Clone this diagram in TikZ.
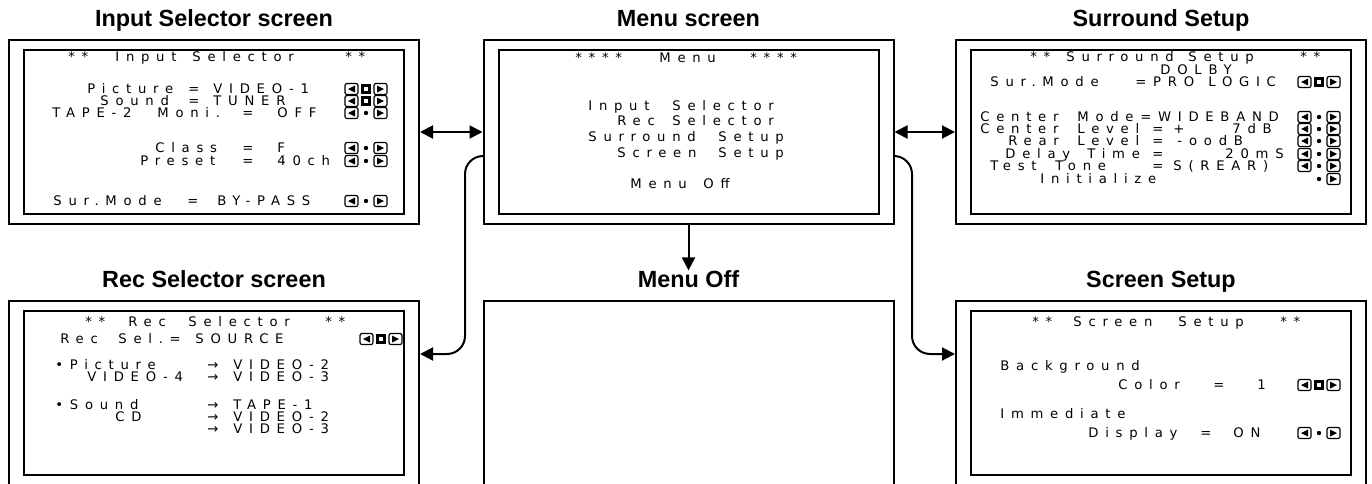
\documentclass[tikz,border=0pt]{standalone}
\usepackage{fontspec}
\usetikzlibrary{positioning, arrows.meta}
\newfontfamily\titlefont{Liberation Sans}
\newfontfamily\scrfont{DejaVu Sans}[LetterSpace=51]

\begin{document}
\begin{tikzpicture}[x=0.5pt, y=-0.5pt,
    % Define styles for the screens and their texts
    outerbox/.style={draw, line width=1pt, minimum width=205pt, minimum height=92pt, inner sep=0pt},
    innerbox/.style={draw, line width=1pt, minimum width=190pt, minimum height=82pt, inner sep=0pt},
    title/.style={font=\titlefont\bfseries\fontsize{11.7}{14}\selectfont, inner sep=0pt, text height=8.4pt, text depth=2.5pt},
    scrtxt/.style={font=\scrfont\fontsize{6.6}{8}\selectfont, anchor=west, inner sep=0pt, text height=4.8pt, text depth=0pt},
    ctlbox/.style={line width=0.6pt, rounded corners=1pt},
    % Define connector styles
    conn/.style={line width=1pt, -{Triangle[length=6.5pt, width=6.5pt]}},
    dblconn/.style={line width=1pt, {Triangle[length=6.5pt, width=6.5pt]}-{Triangle[length=6.5pt, width=6.5pt]}}
]

    % --- Page frame ---
    \useasboundingbox (0,0) rectangle (1372,483);
    \clip (0,0) rectangle (1372,483);

    % --- Helper macros for the arrow keys ---
    % Arguments: (right edge x, row y)
    \newcommand{\ctlL}[2]{
        \draw[ctlbox] ({#1-42},{#2-5.5}) rectangle ({#1-29},{#2+5.5});
        \fill ({#1-39},#2) -- ({#1-32},{#2-3.5}) -- ({#1-32},{#2+3.5}) -- cycle;
    }
    \newcommand{\ctlR}[2]{
        \draw[ctlbox] ({#1-13},{#2-5.5}) rectangle (#1,{#2+5.5});
        \fill ({#1-3},#2) -- ({#1-10},{#2-3.5}) -- ({#1-10},{#2+3.5}) -- cycle;
    }
    \newcommand{\ctlSq}[2]{
        \fill ({#1-26},{#2-5}) rectangle ({#1-16},{#2+5});
        \fill[white] ({#1-23},{#2-2}) rectangle ({#1-19},{#2+2});
    }
    \newcommand{\ctlDot}[2]{
        \fill ({#1-21},#2) circle (1.1pt);
    }

    % ================= SCREENS =================
    \foreach \n/\x/\y in {in/214/132, menu/688.5/132, surr/1161/132, rec/214/393, scr/1161/393} {
        \node[outerbox] (\n) at (\x,\y) {};
        \node[innerbox] (i\n) at (\x,\y) {};
    }
    \node[outerbox] (off) at (688.5,393) {};

    % --- Titles ---
    \node[title, above=3.5pt of in] (inT) {Input Selector screen};
    \node[title, above=3.5pt of menu] (menuT) {Menu screen};
    \node[title, above=3.5pt of surr] (surrT) {Surround Setup};
    \node[title, above=3.5pt of rec] (recT) {Rec Selector screen};
    \node[title, above=3.5pt of off] (offT) {Menu Off};
    \node[title, above=3.5pt of scr] (scrT) {Screen Setup};

    % ================= SCREEN TEXTS =================
    % Input Selector
    \foreach \x/\y/\t [count=\i] in {68/57/**, 115/57/Input, 192/57/Selector, 345/57/**,
        87/89/Picture, 188/89/=, 213/89/VIDEO-1,
        100/101/Sound, 188/101/=, 213/101/TUNER,
        52/113/TAPE-2, 157/113/Moni., 242/113/=, 277/113/OFF,
        155/148/Class, 242/148/=, 277/148/F,
        140/161/Preset, 242/161/=, 277/161/40ch,
        53/201/Sur.Mode, 187/201/=, 217/201/BY-PASS} {
        \node[scrtxt] (inTx\i) at (\x,\y) {\t};
    }
    \foreach \y in {89, 101} {\ctlL{387}{\y}\ctlSq{387}{\y}\ctlR{387}{\y}}
    \foreach \y in {113, 148, 161, 201} {\ctlL{387}{\y}\ctlDot{387}{\y}\ctlR{387}{\y}}

    % Menu
    \foreach \x/\y/\t [count=\i] in {575/58/****, 659/58/Menu, 750/58/****,
        588/106/Input, 672/106/Selector,
        617/121/Rec, 672/121/Selector,
        588/137/Surround, 718/137/Setup,
        617/153/Screen, 718/153/Setup,
        630/184/Menu, 703/184/Off} {
        \node[scrtxt] (menuTx\i) at (\x,\y) {\t};
    }

    % Surround Setup
    \foreach \x/\y/\t [count=\i] in {1030/57/**, 1066/57/Surround, 1188/57/Setup, 1300/57/**,
        1160/70/DOLBY,
        990/82/Sur.Mode, 1135/82/=PRO, 1208/82/LOGIC,
        980/117/Center, 1077/117/Mode=WIDEBAND,
        980/129/Center, 1077/129/Level, 1152/129/=, 1173/129/+, 1232/129/7dB,
        1008/141/Rear, 1077/141/Level, 1152/141/=, 1177/141/-oodB,
        1005/154/Delay, 1087/154/Time, 1152/154/=, 1225/154/20mS,
        990/166/Test, 1055/166/Tone, 1152/166/=, 1173/166/{S(REAR)},
        1040/179/Initialize} {
        \node[scrtxt] (surrTx\i) at (\x,\y) {\t};
    }
    \ctlL{1340}{82}\ctlSq{1340}{82}\ctlR{1340}{82}
    \foreach \y in {117, 129, 141, 154, 166} {\ctlL{1340}{\y}\ctlDot{1340}{\y}\ctlR{1340}{\y}}
    \ctlDot{1340}{179}\ctlR{1340}{179}

    % Rec Selector
    \foreach \x/\y/\t [count=\i] in {85/322/**, 128/322/Rec, 188/322/Selector, 325/322/**,
        60/339/Rec, 118/339/Sel.=, 195/339/SOURCE,
        55/365/•Picture, 207/365/→, 233/365/VIDEO-2,
        87/377/VIDEO-4, 207/377/→, 233/377/VIDEO-3,
        55/405/•Sound, 207/405/→, 233/405/TAPE-1,
        115/417/CD, 207/417/→, 233/417/VIDEO-2,
        207/429/→, 233/429/VIDEO-3} {
        \node[scrtxt] (recTx\i) at (\x,\y) {\t};
    }
    \ctlL{402}{339}\ctlSq{402}{339}\ctlR{402}{339}

    % Screen Setup
    \foreach \x/\y/\t [count=\i] in {1032/322/**, 1073/322/Screen, 1178/322/Setup, 1280/322/**,
        1000/366/Background,
        1118/385/Color, 1213/385/=, 1257/385/1,
        1000/414/Immediate,
        1088/433/Display, 1200/433/=, 1233/433/ON} {
        \node[scrtxt] (scrTx\i) at (\x,\y) {\t};
    }
    \ctlL{1340}{385}\ctlSq{1340}{385}\ctlR{1340}{385}
    \ctlL{1340}{433}\ctlDot{1340}{433}\ctlR{1340}{433}

    % ================= CONNECTORS =================
    \draw[dblconn] (in.east) -- (menu.west);
    \draw[dblconn] (menu.east) -- (surr.west);
    \draw[conn] (menu.south) -- (offT.north);

    \coordinate (mL) at ([yshift=-12pt]menu.west);
    \coordinate (mR) at ([yshift=-12pt]menu.east);
    \coordinate (recIn) at ([yshift=-27pt]rec.north east);
    \coordinate (scrIn) at ([yshift=-27pt]scr.north west);
    \draw[conn, rounded corners=9pt] (mL) -| ([xshift=22.5pt]recIn) -- (recIn);
    \draw[conn, rounded corners=9pt] (mR) -| ([xshift=-21.5pt]scrIn) -- (scrIn);

\end{tikzpicture}
\end{document}
